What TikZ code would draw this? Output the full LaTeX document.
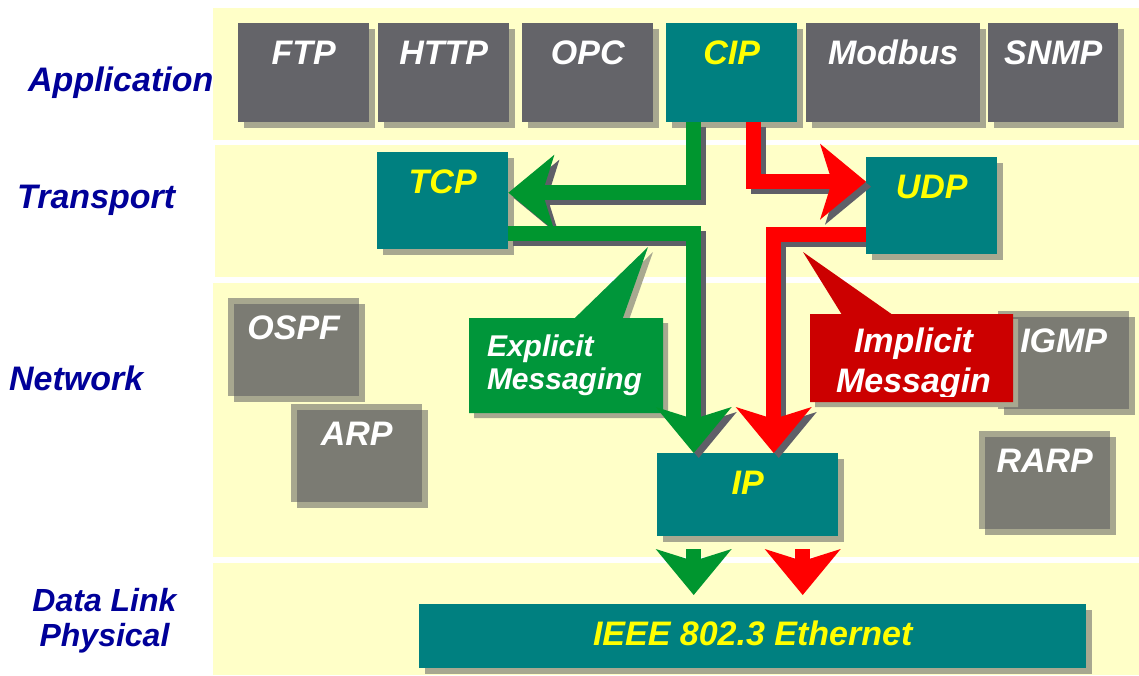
\documentclass[tikz,border=0pt]{standalone}
\usepackage{fontspec}
\setmainfont{Liberation Sans}
\usetikzlibrary{arrows.meta}
\usetikzlibrary{shadows}
\usetikzlibrary{shapes.callouts}
\definecolor{bandyellow}{HTML}{FFFFC8}
\definecolor{layerblue}{HTML}{000099}
\definecolor{protogray}{HTML}{646469}
\definecolor{boxshade}{HTML}{A8A890}
\definecolor{cipteal}{HTML}{008080}
\definecolor{cipyellow}{HTML}{FFFF00}
\definecolor{netgray}{HTML}{515158}
\definecolor{flowgreen}{HTML}{00962F}
\definecolor{flowred}{HTML}{FF0000}
\definecolor{flowshade}{HTML}{5F5F68}
\definecolor{msggreen}{HTML}{00963A}
\definecolor{msgred}{HTML}{CC0000}
\tikzset{
  layer/.style={text=layerblue, inner sep=0pt, anchor=base west,
    font=\fontsize{34pt}{40pt}\selectfont\bfseries\itshape},
  proto/.style={anchor=north west, inner sep=0pt, text height=41pt, minimum width=131pt,
    font=\fontsize{34pt}{40pt}\selectfont\bfseries\itshape},
  boxshadow/.style={drop shadow={shadow xshift=6pt, shadow yshift=-6pt, fill=boxshade, opacity=1}},
  appbox/.style={proto, boxshadow, fill=protogray, text=white, text depth=58pt},
  cipbox/.style={proto, boxshadow, fill=cipteal, text=cipyellow},
  netbox/.style={proto, fill=netgray, fill opacity=0.5, text opacity=1, text=white, text depth=57pt,
    drop shadow={shadow xshift=6pt, shadow yshift=-6pt, fill=netgray, opacity=0.5}},
  msgcall/.style={rectangle callout, inner ysep=0pt,
    drop shadow={shadow xshift=5pt, shadow yshift=-5pt, fill=boxshade, opacity=1}},
  flowhead/.style={-{Stealth[length=46pt, width=76pt, inset=12pt, line width=0pt]}},
  flowline/.style={flowhead, line width=15pt},
  grnflow/.style={flowline, draw=flowgreen},
  redflow/.style={flowline, draw=flowred},
  flowshadow/.style={flowline, draw=flowshade, transform canvas={shift={(5pt,-5pt)}}}
}

\begin{document}
\begin{tikzpicture}[x=1pt,y=-1pt]
    \useasboundingbox (0,0) rectangle (1139,675);
    \node[layer] (application) at (28,91) {Application};
    \node[layer] (transport) at (17,208) {Transport};
    \node[layer] (network) at (9,390) {Network};
    \node[layer, anchor=center, align=center, font=\fontsize{32pt}{35pt}\selectfont\bfseries\itshape] (datalink) at (104.5,621) {Data Link\\Physical};

    \fill[bandyellow] (213,8) rectangle (1139,140);
    \fill[bandyellow] (215,145) rectangle (1139,277);
    \fill[bandyellow] (213,283) rectangle (1139,557);
    \fill[bandyellow] (213,563) rectangle (1139,675);

    \node[netbox] (ospf) at (228,298) {OSPF};
    \node[netbox] (arp) at (291,404) {ARP};
    \node[netbox] (igmp) at (998,311) {IGMP};
    \node[netbox] (rarp) at (979,431) {RARP};

    \node[appbox] (ftp) at (238,23) {FTP};
    \node[appbox] (http) at (378,23) {HTTP};
    \node[appbox] (opc) at (522,23) {OPC};
    \node[cipbox, text depth=58pt] (cip) at (666,23) {CIP};
    \node[appbox, minimum width=174pt] (modbus) at (806,23) {Modbus};
    \node[appbox, minimum width=130pt] (snmp) at (988,23) {SNMP};
    \node[cipbox, text depth=56pt] (tcp) at (377,152) {TCP};
    \node[cipbox, text depth=56pt] (udp) at (866,157) {UDP};
    \node[cipbox, minimum width=181pt, text depth=42pt] (ip) at (657,453) {IP};
    \node[cipbox, minimum width=667pt, text depth=23pt] (eth) at (419,604) {IEEE 802.3 Ethernet};

    \coordinate (exptip) at (648,247);
    \coordinate (imptip) at (803,252);
    \node[msgcall, callout absolute pointer={(exptip)}, callout pointer width=48pt, fill=msggreen,
      text=white, align=left, text width=158pt, inner xsep=18pt, minimum height=95pt,
      font=\fontsize{30pt}{33pt}\selectfont\bfseries\itshape] (explicit) at (566,365.5) {Explicit\\Messaging};
    \node[msgcall, callout absolute pointer={(imptip)}, callout pointer width=50pt, fill=msgred,
      inner xsep=0pt, minimum width=203pt, minimum height=88pt] (implicit) at (911.5,358) {};
    \begin{scope}
      \clip (implicit.north west) rectangle ([yshift=6pt]implicit.south east);
      \node[text=white, align=center, inner sep=0pt, font=\fontsize{34pt}{40pt}\selectfont\bfseries\itshape] (impltext) at (913.5,364) {Implicit\\Messagin};
    \end{scope}

    \draw[flowshadow] ([xshift=-38pt]cip.south) |- ([yshift=8pt]tcp.east);
    \draw[grnflow] ([xshift=-38pt]cip.south) |- ([yshift=8pt]tcp.east);
    \draw[flowshadow] ([yshift=-33pt]tcp.east) -| ([xshift=-54pt]ip.north);
    \draw[grnflow] ([yshift=-33pt]tcp.east) -| ([xshift=-54pt]ip.north);
    \draw[flowshadow] ([xshift=21.5pt]cip.south) |- ([yshift=24pt]udp.west);
    \draw[redflow] ([xshift=21.5pt]cip.south) |- ([yshift=24pt]udp.west);
    \draw[flowshadow, shorten <=5pt] ([yshift=-28.5pt]udp.west) -| ([xshift=26pt]ip.north);
    \draw[redflow] ([yshift=-28.5pt]udp.west) -| ([xshift=26pt]ip.north);

    \draw[grnflow, shorten <=13pt, shorten >=9pt] ([xshift=-54pt]ip.south) -- ([xshift=-54pt]ip.south |- eth.north);
    \draw[redflow, shorten <=13pt, shorten >=9pt] ([xshift=55pt]ip.south) -- ([xshift=55pt]ip.south |- eth.north);
\end{tikzpicture}
\end{document}
